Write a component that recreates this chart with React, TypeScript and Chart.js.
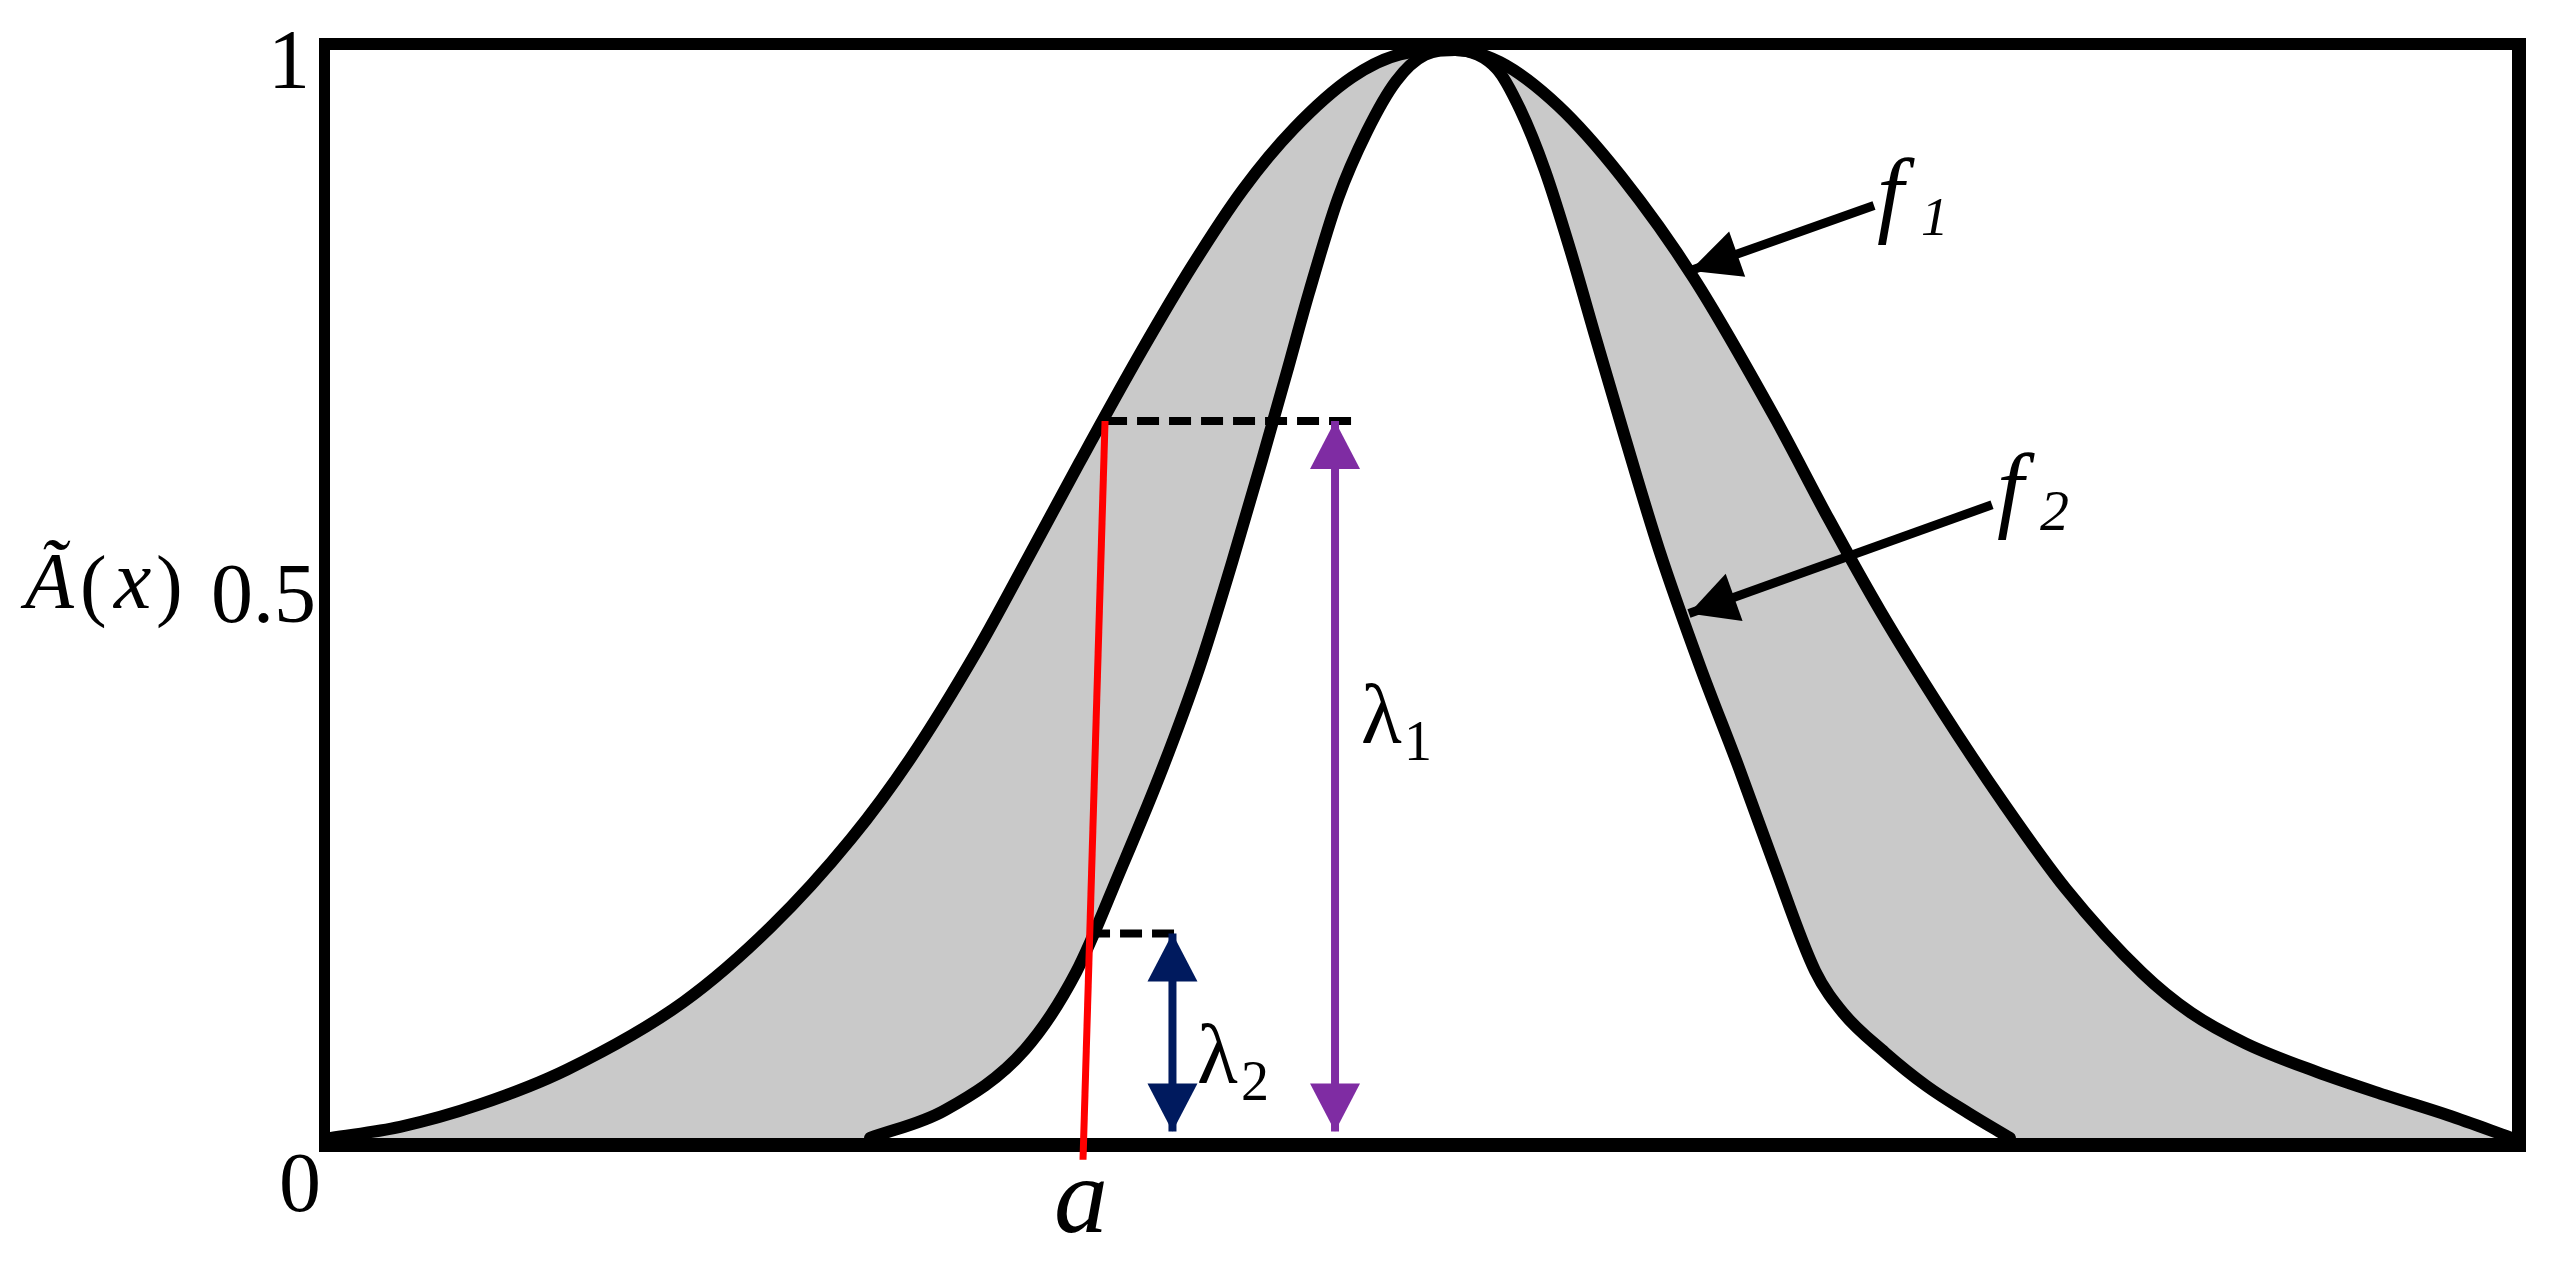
import { useEffect, useRef } from 'react';
import { Chart, registerables } from 'chart.js';

Chart.register(...registerables);

const W = 2561;
const H = 1261;

// x runs 0..10 across the framed box, y is the membership grade 0..1
const f1X = [0, 0.321, 0.687, 1.086, 1.62, 2.021, 2.388, 2.658, 2.97, 3.203, 3.437, 3.72, 3.953, 4.184, 4.418, 4.684, 4.904, 5.156, 5.362, 5.628, 5.917, 6.251, 6.618, 6.87, 7.108, 7.381, 7.667, 7.955, 8.304, 8.529, 8.781, 9.102, 9.418, 9.707, 10];
const f1Y = [0, 0.0103, 0.0309, 0.0629, 0.125, 0.1941, 0.275, 0.3483, 0.4495, 0.5348, 0.6216, 0.7235, 0.8021, 0.8717, 0.9279, 0.9749, 0.996, 1.0, 0.9888, 0.9488, 0.8839, 0.79, 0.6635, 0.5685, 0.4834, 0.3948, 0.3086, 0.2291, 0.152, 0.1151, 0.0868, 0.061, 0.0394, 0.0209, 0];

const f2X = [2.475, 2.818, 3.185, 3.419, 3.621, 3.818, 3.987, 4.134, 4.271, 4.386, 4.487, 4.62, 4.752, 4.886, 5.018, 5.156, 5.348, 5.454, 5.568, 5.683, 5.802, 5.93, 6.091, 6.279, 6.457, 6.618, 6.806, 6.934, 7.127, 7.317, 7.507, 7.699];
const f2Y = [0, 0.0255, 0.0814, 0.1522, 0.2452, 0.3412, 0.434, 0.529, 0.6228, 0.7044, 0.7772, 0.8638, 0.9251, 0.9715, 0.9955, 1.0, 0.9826, 0.9456, 0.8893, 0.8169, 0.7345, 0.647, 0.5408, 0.4334, 0.3402, 0.2517, 0.1537, 0.1151, 0.0784, 0.0478, 0.0231, 0];

// construction lines
const levelHigh = 0.659; // f1(a)
const levelLow = 0.188; // f2(a)
const arrowFloor = 0.006;
const redX = [3.552, 3.451];
const redY = [levelHigh, -0.02];
const dashHighX = [3.552, 4.684];
const dashLowX = [3.474, 3.886];
const lambda1X = 4.606;
const lambda2X = 3.861;
const f1ArrowX = [7.076, 6.233];
const f1ArrowY = [0.857, 0.797];
const f2ArrowX = [7.617, 6.228];
const f2ArrowY = [0.582, 0.482];

const yTickValues = [0.5, 1];
const yTickLabels = ['0.5', '1'];

const PURPLE = '#7f2ca3';
const NAVY = '#001a5e';
const RED = '#ff0000';
const GRAY = '#c9c9c9';
const SERIF = "'Liberation Serif', 'Times New Roman', serif";

const pts = (xs: number[], ys: number[]) => xs.map((x, i) => ({ x, y: ys[i] }));

function drawInk(ctx: any, text: string, font: string, o: { left?: number; right?: number; bottom?: number; baseline?: number }) {
  ctx.font = font;
  ctx.textAlign = 'left';
  ctx.textBaseline = 'alphabetic';
  ctx.fillStyle = '#000';
  const m = ctx.measureText(text);
  const base = o.baseline !== undefined ? o.baseline : (o.bottom as number) - m.actualBoundingBoxDescent;
  const x = o.left !== undefined ? o.left + m.actualBoundingBoxLeft : (o.right as number) - m.actualBoundingBoxRight;
  ctx.fillText(text, x, base);
}

function drawHead(ctx: any, tip: any, from: any, len: number, w: number, color: string) {
  const dx = tip.x - from.x;
  const dy = tip.y - from.y;
  const d = Math.hypot(dx, dy) || 1;
  const ux = dx / d;
  const uy = dy / d;
  const bx = tip.x - ux * len;
  const by = tip.y - uy * len;
  const nx = -uy;
  const ny = ux;
  ctx.beginPath();
  ctx.moveTo(tip.x, tip.y);
  ctx.lineTo(bx + (nx * w) / 2, by + (ny * w) / 2);
  ctx.lineTo(bx - (nx * w) / 2, by - (ny * w) / 2);
  ctx.closePath();
  ctx.fillStyle = color;
  ctx.fill();
}

const decor = {
  id: 'decor',
  beforeDatasetsDraw(chart: any) {
    const { ctx, chartArea: a } = chart;
    ctx.save();
    ctx.fillStyle = '#000';
    const l = a.left - 11;
    const t = a.top - 12;
    const r = a.right + 14;
    const b = a.bottom + 14;
    ctx.fillRect(l, t, 11, b - t); // left
    ctx.fillRect(l, t, r - l, 12); // top
    ctx.fillRect(a.right, t, 14, b - t); // right
    ctx.fillRect(l, a.bottom, r - l, 14); // bottom
    ctx.restore();
  },
  afterDatasetsDraw(chart: any) {
    const { ctx } = chart;
    ctx.save();
    chart.data.datasets.forEach((ds: any, i: number) => {
      if (!ds.heads) return;
      const p = chart.getDatasetMeta(i).data;
      const n = p.length;
      if (ds.heads.start) drawHead(ctx, p[0], p[1], ds.heads.len, ds.heads.w, ds.borderColor);
      if (ds.heads.end) drawHead(ctx, p[n - 1], p[n - 2], ds.heads.len, ds.heads.w, ds.borderColor);
    });
    ctx.restore();
  },
  afterDraw(chart: any) {
    const { ctx, chartArea: a, scales } = chart;
    const y = scales.y;
    ctx.save();
    // y tick labels
    yTickValues.forEach((v, i) => {
      const bottom = Math.max(y.getPixelForValue(v) + 29, a.top + 38);
      drawInk(ctx, yTickLabels[i], `84px ${SERIF}`, { right: a.left - 17 - (v === 1 ? 8 : 0), bottom });
    });
    // origin label
    drawInk(ctx, '0', `84px ${SERIF}`, { left: a.left - 48, bottom: a.bottom + 74 });
    // axis title Ã(x)
    const base = 608;
    drawInk(ctx, 'Ã', `italic 80px ${SERIF}`, { left: 20, baseline: base });
    drawInk(ctx, '(', `80px ${SERIF}`, { left: 83, baseline: base + 3 });
    drawInk(ctx, 'x', `italic 84px ${SERIF}`, { left: 112, baseline: base });
    drawInk(ctx, ')', `80px ${SERIF}`, { left: 158, baseline: base + 3 });
    // point a
    drawInk(ctx, 'a', `italic 108px ${SERIF}`, { left: 1057, bottom: 1233 });
    // lambda labels
    drawInk(ctx, 'λ', `84px ${SERIF}`, { left: 1363, bottom: 743 });
    drawInk(ctx, '1', `56px ${SERIF}`, { left: 1408, bottom: 760 });
    drawInk(ctx, 'λ', `84px ${SERIF}`, { left: 1199, bottom: 1083 });
    drawInk(ctx, '2', `56px ${SERIF}`, { left: 1243, bottom: 1100 });
    // curve names
    drawInk(ctx, 'f', `italic 96px ${SERIF}`, { left: 1878, bottom: 245 });
    drawInk(ctx, '1', `italic 55px ${SERIF}`, { left: 1922, bottom: 235 });
    drawInk(ctx, 'f', `italic 96px ${SERIF}`, { left: 1998, bottom: 540 });
    drawInk(ctx, '2', `italic 58px ${SERIF}`, { left: 2040, bottom: 530 });
    ctx.restore();
  },
};

export default function App() {
  const ref = useRef<HTMLCanvasElement>(null);

  useEffect(() => {
    const canvas = ref.current;
    if (!canvas) return;
    const line = (extra: any) => ({
      pointRadius: 0,
      pointHoverRadius: 0,
      pointHitRadius: 0,
      fill: false,
      borderCapStyle: 'butt',
      ...extra,
    });
    const curve = (extra: any) =>
      line({
        borderColor: '#000',
        borderWidth: 12,
        cubicInterpolationMode: 'monotone',
        borderJoinStyle: 'round',
        borderCapStyle: 'round',
        fill: 'origin',
        ...extra,
      });
    const chart = new Chart(canvas, {
      type: 'line',
      data: {
        datasets: [
          line({
            label: 'λ1',
            data: pts([lambda1X, lambda1X], [levelHigh, arrowFloor]),
            borderColor: PURPLE,
            borderWidth: 8,
            heads: { start: true, end: true, len: 48, w: 50 },
          }),
          line({
            label: 'λ2',
            data: pts([lambda2X, lambda2X], [levelLow, arrowFloor]),
            borderColor: NAVY,
            borderWidth: 8,
            heads: { start: true, end: true, len: 48, w: 50 },
          }),
          line({
            label: 'a',
            data: pts(redX, redY),
            borderColor: RED,
            borderWidth: 7,
            clip: false,
          }),
          line({
            label: 'f1(a)',
            data: pts(dashHighX, [levelHigh, levelHigh]),
            borderColor: '#000',
            borderWidth: 8,
            borderDash: [22, 10],
          }),
          line({
            label: 'f2(a)',
            data: pts(dashLowX, [levelLow, levelLow]),
            borderColor: '#000',
            borderWidth: 8,
            borderDash: [22, 10],
          }),
          line({
            label: 'f1 pointer',
            data: pts(f1ArrowX, f1ArrowY),
            borderColor: '#000',
            borderWidth: 9,
            heads: { start: false, end: true, len: 50, w: 48 },
          }),
          line({
            label: 'f2 pointer',
            data: pts(f2ArrowX, f2ArrowY),
            borderColor: '#000',
            borderWidth: 9,
            heads: { start: false, end: true, len: 48, w: 50 },
          }),
          curve({ label: 'f2', data: pts(f2X, f2Y), backgroundColor: '#ffffff' }),
          curve({ label: 'f1', data: pts(f1X, f1Y), backgroundColor: GRAY }),
        ],
      },
      options: {
        responsive: false,
        animation: false,
        events: [],
        layout: { padding: { left: 330, right: 49, top: 50, bottom: 123 } },
        scales: {
          x: { type: 'linear', min: 0, max: 10, display: false },
          y: { type: 'linear', min: 0, max: 1, display: false },
        },
        plugins: {
          legend: { display: false },
          tooltip: { enabled: false },
          filler: { drawTime: 'beforeDatasetsDraw' },
        },
      } as any,
      plugins: [decor as any],
    });
    return () => chart.destroy();
  }, []);

  return (
    <div style={{ position: 'fixed', left: 0, top: 0, width: W, height: H, background: '#ffffff' }}>
      <canvas ref={ref} width={W} height={H} style={{ display: 'block', width: W, height: H }} />
    </div>
  );
}
